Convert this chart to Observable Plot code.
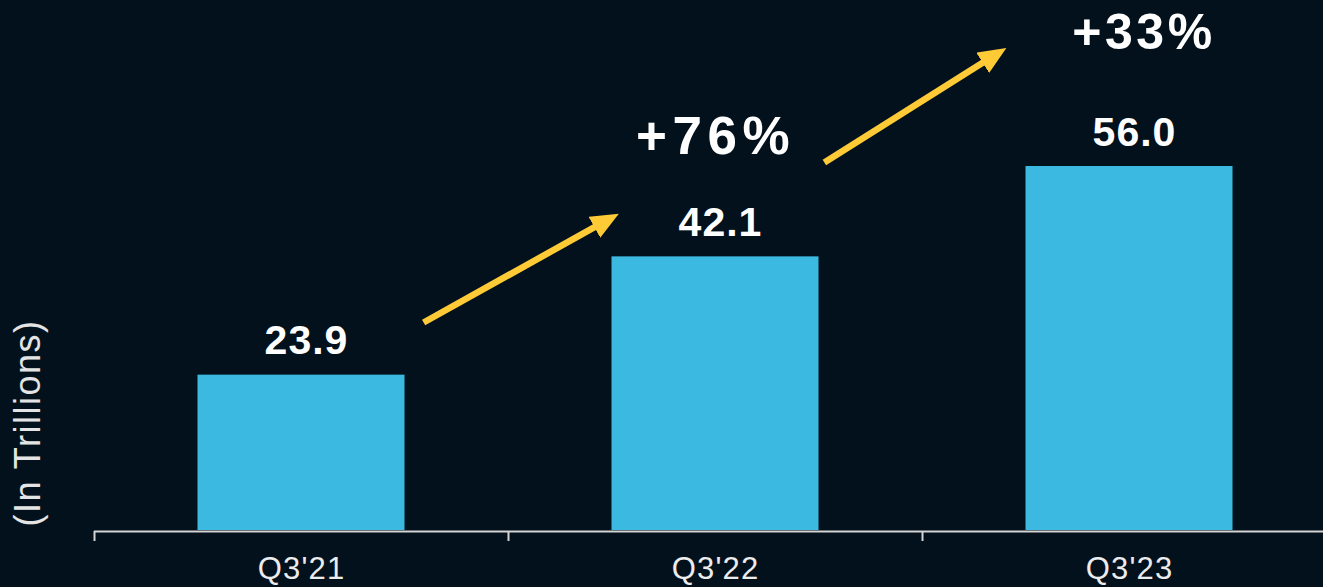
<!DOCTYPE html>
<html>
<head>
<meta charset="utf-8">
<script src="https://cdn.jsdelivr.net/npm/d3@7"></script>
<script src="https://cdn.jsdelivr.net/npm/@observablehq/plot@0.6"></script>
<style>
  html, body { margin: 0; padding: 0; background: #03111c; overflow: hidden; }
  svg { display: block; }
</style>
</head>
<body>
<div id="chart"></div>
<script>
const categories = ["Q3'21", "Q3'22", "Q3'23"];
const values = [23.9, 42.1, 56.0];
const growthLabels = ["+76%", "+33%"];
// annotation anchors in data units (x = category index, y = value units)
const growthX = [1.0, 2.035];
const growthY = [60.5, 76.5];
const arrowX1 = [0.295, 1.263];
const arrowY1 = [32.0, 56.6];
const arrowX2 = [0.737, 1.674];
const arrowY2 = [47.7, 73.1];
const bandEdges = [-0.5, 0.5, 1.5, 2.5];

const bars = categories.map((c, i) => ({i, c, v: values[i]}));
const growth = growthLabels.map((t, i) => ({t, x: growthX[i], y: growthY[i]}));
const arrows = arrowX1.map((x, i) => ({x1: x, y1: arrowY1[i], x2: arrowX2[i], y2: arrowY2[i]}));

const FONT = "'Liberation Sans', Arial, Helvetica, sans-serif";

function triangleHead(color) {
  const ns = "http://www.w3.org/2000/svg";
  const m = document.createElementNS(ns, "marker");
  m.setAttribute("viewBox", "0 0 28 24");
  m.setAttribute("markerWidth", 28);
  m.setAttribute("markerHeight", 24);
  m.setAttribute("refX", 14);
  m.setAttribute("refY", 12);
  m.setAttribute("orient", "auto");
  m.setAttribute("markerUnits", "userSpaceOnUse");
  const p = document.createElementNS(ns, "path");
  p.setAttribute("d", "M0,0L28,12L0,24Z");
  p.setAttribute("fill", color);
  p.setAttribute("stroke", "none");
  m.appendChild(p);
  return m;
}

const chart = Plot.plot({
  width: 1323,
  height: 587,
  marginLeft: 94,
  marginRight: -13,
  marginTop: 0,
  marginBottom: 57,
  style: {background: "#03111c", color: "#e8e8e8", fontFamily: FONT, overflow: "hidden"},
  x: {domain: [-0.5, 2.5], axis: null},
  y: {domain: [0, 81.54], axis: null},
  marks: [
    Plot.rectY(bars, {x1: d => d.i - 0.25, x2: d => d.i + 0.25, y1: 0, y2: "v", fill: "#3bb9e0"}),
    Plot.ruleY([0], {stroke: "#d4d4d4", strokeWidth: 2, dy: 1}),
    Plot.axisX(bandEdges, {tickSize: 10, tickFormat: () => "", stroke: "#d4d4d4", strokeWidth: 2, dy: 1}),
    Plot.axisX([0, 1, 2], {tickSize: 0, tickPadding: 26, tickFormat: i => categories[i], fontSize: 31, fill: "#ececec"}),
    Plot.text(bars, {x: "i", y: "v", text: d => d.v.toFixed(1), dx: 5, dy: -34, fill: "#ffffff", fontSize: 41, fontWeight: "bold"}),
    Plot.link(arrows, {x1: "x1", y1: "y1", x2: "x2", y2: "y2", stroke: "#fecb37", strokeWidth: 6.5, markerEnd: triangleHead}),
    Plot.text(growth, {x: "x", y: "y", text: "t", fill: "#ffffff", fontSize: d => d.t === "+76%" ? 53 : 50, fontWeight: "bold"}),
    Plot.text(["(In Trillions)"], {frameAnchor: "bottom-left", rotate: -90, textAnchor: "start", dx: -55, dy: -4,
      fontSize: 36, fill: "#e4e4e4"})
  ]
});

// letter spacing (PowerPoint-style tracking) applied after rendering
const spacing = {"+76%": "5.5px", "+33%": "3.5px", "(In Trillions)": "1.5px", "23.9": "1px", "42.1": "1px", "56.0": "1px"};
d3.select(chart).selectAll("text").each(function() {
  const t = this.textContent;
  if (spacing[t]) this.setAttribute("letter-spacing", spacing[t]);
  else if (categories.includes(t)) this.setAttribute("letter-spacing", "1.2px");
});
document.getElementById("chart").appendChild(chart);
</script>
</body>
</html>
